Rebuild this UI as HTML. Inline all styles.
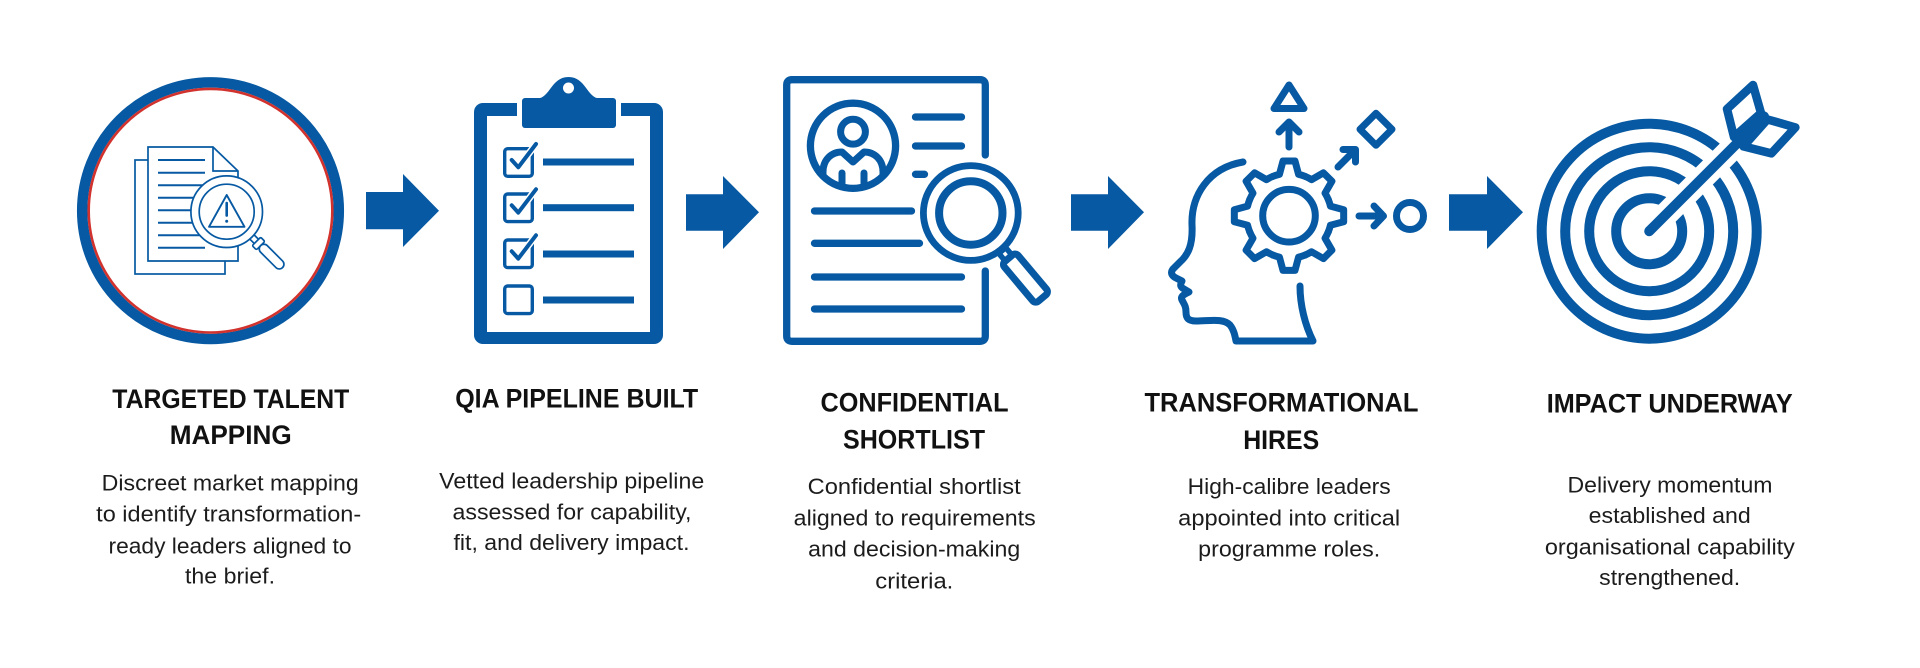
<!DOCTYPE html>
<html>
<head>
<meta charset="utf-8">
<style>
html,body{margin:0;padding:0;background:#fff;}
svg{display:block;}
</style>
</head>
<body>
<svg width="1920" height="668" viewBox="0 0 1920 668" xmlns="http://www.w3.org/2000/svg">
<rect width="1920" height="668" fill="#fff"/>

<!-- ICON 1: circle with documents + magnifier -->
<circle cx="210.5" cy="210.7" r="128.3" fill="none" stroke="#0659a2" stroke-width="10.5"/>
<circle cx="210.5" cy="210.7" r="121.8" fill="none" stroke="#d2322d" stroke-width="2.6"/>
<g fill="#fff" stroke="#0659a2" stroke-width="1.7">
  <rect x="135" y="160" width="90" height="114"/>
  <path d="M148 147 H213 L238 171 V261 H148 Z"/>
  <path d="M213 147 V171 H238" fill="none"/>
</g>
<g stroke="#0659a2" stroke-width="2">
  <line x1="158" y1="160" x2="205" y2="160"/>
  <line x1="158" y1="172.7" x2="205" y2="172.7"/>
  <line x1="158" y1="185.2" x2="205" y2="185.2"/>
  <line x1="158" y1="197.7" x2="205" y2="197.7"/>
  <line x1="158" y1="210.2" x2="205" y2="210.2"/>
  <line x1="158" y1="222.7" x2="205" y2="222.7"/>
  <line x1="158" y1="235.2" x2="205" y2="235.2"/>
  <line x1="158" y1="247.7" x2="205" y2="247.7"/>
</g>
<g transform="translate(226.7 211.7) rotate(45)" fill="#fff" stroke="#0659a2" stroke-width="1.7">
  <rect x="35" y="-3" width="8" height="6"/>
  <rect x="42" y="-6" width="6" height="12" rx="1.5"/>
  <rect x="48" y="-4.7" width="31" height="9.4" rx="4.7"/>
</g>
<circle cx="226.7" cy="211.7" r="35.8" fill="#fff" stroke="#0659a2" stroke-width="1.7"/>
<circle cx="226.7" cy="211.7" r="27.5" fill="none" stroke="#0659a2" stroke-width="1.7"/>
<path d="M226.7 195 L244.5 226.8 H209 Z" fill="none" stroke="#0659a2" stroke-width="1.9" stroke-linejoin="round"/>
<line x1="226.7" y1="203" x2="226.7" y2="215.5" stroke="#0659a2" stroke-width="2.6" stroke-linecap="round"/>
<circle cx="226.7" cy="221.3" r="1.5" fill="#0659a2"/>

<!-- ARROWS -->
<g fill="#0659a2">
  <path d="M366 192 H403 V174 L439 210.7 L403 247 V229.3 H366 Z"/>
  <path d="M686 194.3 H723 V176 L759 212.3 L723 249 V230.7 H686 Z"/>
  <path d="M1071 194.3 H1108 V176 L1144 212.3 L1108 249 V230.7 H1071 Z"/>
  <path d="M1449 194.3 H1487 V176 L1523 212.3 L1487 249 V230.7 H1449 Z"/>
</g>

<!-- ICON 2: clipboard -->
<rect x="474" y="103" width="189" height="241" rx="9" fill="#0659a2"/>
<rect x="487" y="116" width="163" height="216" fill="#fff"/>
<rect x="517" y="100" width="104" height="16" fill="#fff"/>
<path d="M537 98.5 C550 98.5 551 77 568.5 77 C586 77 587 98.5 600 98.5 Z" fill="#0659a2"/>
<rect x="522" y="98" width="94" height="30" rx="3" fill="#0659a2"/>
<circle cx="568.5" cy="88" r="5.5" fill="#fff"/>
<g fill="#fff" stroke="#0659a2" stroke-width="3.4">
  <rect x="504.7" y="148.7" width="27.6" height="27.6" rx="3"/>
  <rect x="504.7" y="194" width="27.6" height="27.6" rx="3"/>
  <rect x="504.7" y="240" width="27.6" height="27.6" rx="3"/>
  <rect x="504.7" y="286" width="27.6" height="27.6" rx="3"/>
</g>
<g fill="#0659a2">
  <rect x="543" y="158.5" width="91" height="7"/>
  <rect x="543" y="204.2" width="91" height="7"/>
  <rect x="543" y="250.5" width="91" height="7"/>
  <rect x="543" y="296.5" width="91" height="7"/>
</g>
<g fill="none" stroke-linecap="round" stroke-linejoin="round">
  <polyline points="511.7,160 518.3,167.3 536,144" stroke="#fff" stroke-width="7"/>
  <polyline points="511.7,160 518.3,167.3 536,144" stroke="#0659a2" stroke-width="4"/>
  <polyline points="511.7,205.3 518.3,212.6 536,189.3" stroke="#fff" stroke-width="7"/>
  <polyline points="511.7,205.3 518.3,212.6 536,189.3" stroke="#0659a2" stroke-width="4"/>
  <polyline points="511.7,251.3 518.3,258.6 536,235.3" stroke="#fff" stroke-width="7"/>
  <polyline points="511.7,251.3 518.3,258.6 536,235.3" stroke="#0659a2" stroke-width="4"/>
</g>

<!-- ICON 3: resume with magnifier -->
<g fill="none" stroke="#0659a2" stroke-width="7.3" stroke-linecap="round" stroke-linejoin="round">
  <path d="M985.3 155 V85 Q985.3 79.7 980 79.7 H792 Q786.7 79.7 786.7 85 V336 Q786.7 341.3 792 341.3 H980 Q985.3 341.3 985.3 336 V271"/>
  <circle cx="853" cy="145.8" r="42.6"/>
  <circle cx="853" cy="131.7" r="12.4" stroke-width="7"/>
  <path d="M915.5 117 H961.5 M915.5 146 H961.5 M915.5 174.3 H924.5 M814.5 211 H911.5 M814.5 243.3 H919.5 M814.5 277 H961.5 M814.5 309 H961.5"/>
</g>
<clipPath id="av"><circle cx="853" cy="145.8" r="40"/></clipPath>
<g clip-path="url(#av)" fill="none" stroke="#0659a2" stroke-width="7" stroke-linecap="round" stroke-linejoin="round">
  <path d="M823 190 V172 C823 160 831 152 842 152 L853 162 L864 152 C875 152 883 160 883 172 V190"/>
  <path d="M842 173 V190 M864 173 V190"/>
</g>
<circle cx="970.8" cy="213" r="50" fill="#fff"/>
<g transform="translate(970.8 213) rotate(50)" fill="#fff" stroke="#0659a2" stroke-linejoin="round">
  <rect x="49" y="-4.5" width="10" height="9" stroke-width="5.5"/>
  <rect x="59" y="-9" width="52" height="18" rx="4" stroke-width="7"/>
</g>
<circle cx="970.8" cy="213" r="47.4" fill="none" stroke="#0659a2" stroke-width="6.8"/>
<circle cx="970.8" cy="213" r="31.7" fill="none" stroke="#0659a2" stroke-width="8"/>

<!-- ICON 4: head with gear -->
<defs>
  <path id="tooth" d="M-16.26 -39.26 A42.5 42.5 0 0 1 -9.56 -41.41 L-6 -54.67 L6 -54.67 L9.56 -41.41 A42.5 42.5 0 0 1 16.26 -39.26"/>
</defs>
<g transform="translate(1289 215.7)" fill="none" stroke="#0659a2" stroke-width="7" stroke-linecap="round" stroke-linejoin="round">
  <use href="#tooth"/>
  <use href="#tooth" transform="rotate(45)"/>
  <use href="#tooth" transform="rotate(90)"/>
  <use href="#tooth" transform="rotate(135)"/>
  <use href="#tooth" transform="rotate(180)"/>
  <use href="#tooth" transform="rotate(225)"/>
  <use href="#tooth" transform="rotate(270)"/>
  <use href="#tooth" transform="rotate(315)"/>
  <circle cx="0" cy="0" r="26.3"/>
</g>
<g fill="none" stroke="#0659a2" stroke-width="7" stroke-linecap="round" stroke-linejoin="round">
  <path d="M1289 147 V124 M1279 132 L1289 122 L1299 132"/>
  <path d="M1289 85 L1304 108.5 H1274 Z"/>
  <path d="M1376 113.3 L1392 129.3 L1376 145.3 L1360 129.3 Z"/>
  <path d="M1338 167 L1354 151 M1343 149.5 H1355.5 V162"/>
  <path d="M1359 216 H1381 M1374 206 L1383.5 216 L1374 226"/>
  <circle cx="1410" cy="216" r="13.5"/>
  <path d="M1243 162 C1208 168 1191 196 1192 225 C1193 245 1188 255 1180 262 L1173 269 C1170 273 1172 276 1176 278 L1182 281 C1180 285 1180 287 1184 289 L1189 292 C1185 294 1180 296 1182 300 C1184 304 1186 306 1186 312 C1186 318 1188 321 1196 321 C1210 321 1223 318 1230 325 C1234 330 1235 336 1236 341 L1313 341 C1305 325 1300 305 1300 286"/>
</g>

<!-- ICON 5: target -->
<g fill="none" stroke="#0659a2" stroke-width="10">
  <circle cx="1649.2" cy="231.2" r="107.5"/>
  <circle cx="1649.2" cy="231.2" r="84"/>
  <circle cx="1649.2" cy="231.2" r="60"/>
  <circle cx="1649.2" cy="231.2" r="33"/>
</g>
<line x1="1649.2" y1="231.2" x2="1731" y2="149.4" stroke="#fff" stroke-width="24"/>
<g stroke="#0659a2" stroke-width="8.5" stroke-linejoin="round" fill="#fff">
  <path d="M1734 137 L1727 109 L1753 85 L1761 113 Z"/>
  <path d="M1743.4 146.4 L1771.4 153.4 L1795.4 127.4 L1767.4 119.4 Z"/>
</g>
<line x1="1649.2" y1="231.2" x2="1764" y2="116.4" stroke="#0659a2" stroke-width="10" stroke-linecap="round"/>

<!-- TEXT -->
<g font-family="'Liberation Sans', Arial, sans-serif" text-anchor="middle">
  <g font-weight="700" font-size="27" fill="#111">
    <text x="230.8" y="408" textLength="237" lengthAdjust="spacingAndGlyphs">TARGETED TALENT</text>
    <text x="230.7" y="444" textLength="122" lengthAdjust="spacingAndGlyphs">MAPPING</text>
    <text x="576.7" y="407.5" textLength="243" lengthAdjust="spacingAndGlyphs">QIA PIPELINE BUILT</text>
    <text x="914.5" y="411.7" textLength="188" lengthAdjust="spacingAndGlyphs">CONFIDENTIAL</text>
    <text x="914" y="448.3" textLength="142" lengthAdjust="spacingAndGlyphs">SHORTLIST</text>
    <text x="1281.5" y="411.7" textLength="274" lengthAdjust="spacingAndGlyphs">TRANSFORMATIONAL</text>
    <text x="1281.2" y="449" textLength="76" lengthAdjust="spacingAndGlyphs">HIRES</text>
    <text x="1669.7" y="412.3" textLength="246" lengthAdjust="spacingAndGlyphs">IMPACT UNDERWAY</text>
  </g>
  <g font-size="22" fill="#1c1c1c">
    <text x="230.2" y="490.7" textLength="257" lengthAdjust="spacingAndGlyphs">Discreet market mapping</text>
    <text x="228.7" y="521.7" textLength="265" lengthAdjust="spacingAndGlyphs">to identify transformation-</text>
    <text x="230" y="553.3" textLength="243" lengthAdjust="spacingAndGlyphs">ready leaders aligned to</text>
    <text x="230" y="583.3" textLength="90" lengthAdjust="spacingAndGlyphs">the brief.</text>

    <text x="571.7" y="488.5" textLength="265" lengthAdjust="spacingAndGlyphs">Vetted leadership pipeline</text>
    <text x="572" y="519.3" textLength="239" lengthAdjust="spacingAndGlyphs">assessed for capability,</text>
    <text x="571.5" y="550" textLength="236" lengthAdjust="spacingAndGlyphs">fit, and delivery impact.</text>

    <text x="914.2" y="494" textLength="213" lengthAdjust="spacingAndGlyphs">Confidential shortlist</text>
    <text x="914.7" y="525.7" textLength="242" lengthAdjust="spacingAndGlyphs">aligned to requirements</text>
    <text x="914.2" y="556.7" textLength="212" lengthAdjust="spacingAndGlyphs">and decision-making</text>
    <text x="914.3" y="588.3" textLength="78" lengthAdjust="spacingAndGlyphs">criteria.</text>

    <text x="1289.2" y="494" textLength="203" lengthAdjust="spacingAndGlyphs">High-calibre leaders</text>
    <text x="1289.2" y="525.7" textLength="222" lengthAdjust="spacingAndGlyphs">appointed into critical</text>
    <text x="1289.2" y="556.7" textLength="182" lengthAdjust="spacingAndGlyphs">programme roles.</text>

    <text x="1670" y="492.5" textLength="205" lengthAdjust="spacingAndGlyphs">Delivery momentum</text>
    <text x="1669.7" y="523" textLength="162" lengthAdjust="spacingAndGlyphs">established and</text>
    <text x="1669.9" y="554.3" textLength="250" lengthAdjust="spacingAndGlyphs">organisational capability</text>
    <text x="1669.7" y="585" textLength="141" lengthAdjust="spacingAndGlyphs">strengthened.</text>
  </g>
</g>
</svg>
</body>
</html>
